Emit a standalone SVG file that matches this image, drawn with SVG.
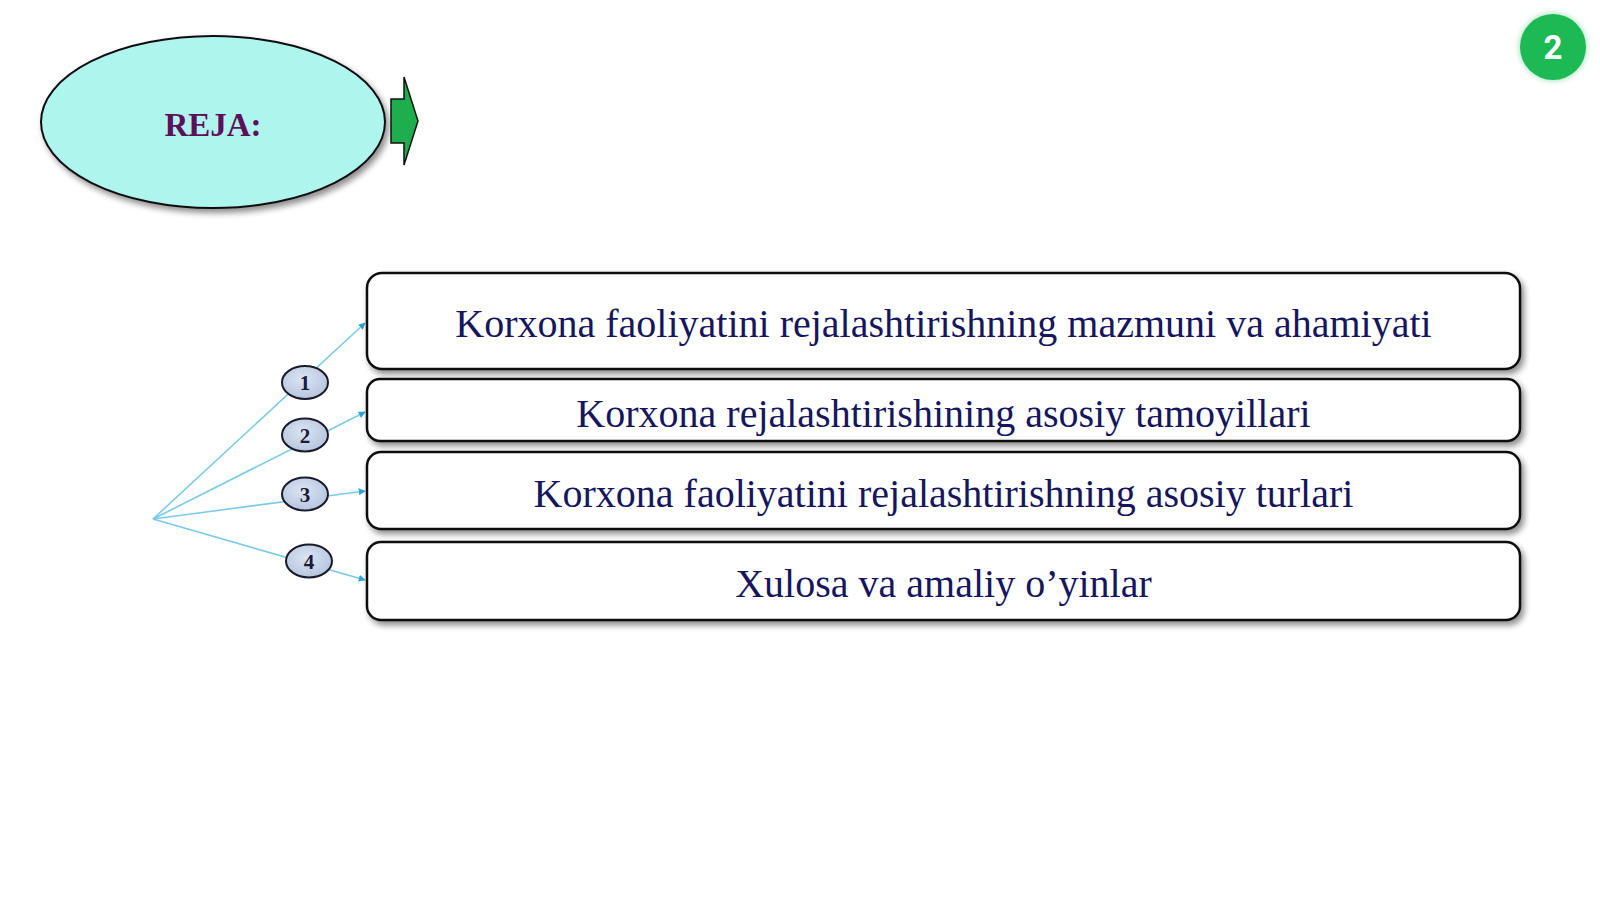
<svg xmlns="http://www.w3.org/2000/svg" width="1600" height="899" viewBox="0 0 1600 899">
  <defs>
    <filter id="shadow" x="-10%" y="-30%" width="120%" height="170%">
      <feGaussianBlur in="SourceAlpha" stdDeviation="3"/>
      <feOffset dx="3" dy="4" result="b"/>
      <feComponentTransfer><feFuncA type="linear" slope="0.45"/></feComponentTransfer>
      <feMerge><feMergeNode/><feMergeNode in="SourceGraphic"/></feMerge>
    </filter>
    <filter id="glow" x="-40%" y="-40%" width="180%" height="180%">
      <feGaussianBlur in="SourceGraphic" stdDeviation="3"/>
      <feComponentTransfer><feFuncA type="linear" slope="0.5"/></feComponentTransfer>
      <feMerge><feMergeNode/><feMergeNode in="SourceGraphic"/></feMerge>
    </filter>
    <radialGradient id="numFill" cx="45%" cy="40%" r="65%">
      <stop offset="0" stop-color="#dbe4f2"/>
      <stop offset="1" stop-color="#b3c3dd"/>
    </radialGradient>
    <marker id="arr" viewBox="0 0 10 10" refX="9" refY="5" markerWidth="7" markerHeight="7" markerUnits="userSpaceOnUse" orient="auto">
      <path d="M0,0 L10,5 L0,10 z" fill="#2aa3d8"/>
    </marker>
  </defs>
  <style>
    .box { fill: #ffffff; stroke: #111111; stroke-width: 2.5; }
    .btxt { font-family: "Liberation Serif", "Times New Roman", serif; font-size: 40px; fill: #16165e; text-anchor: middle; }
    .num { fill: url(#numFill); stroke: #1a1a2a; stroke-width: 2; }
    .ntxt { font-family: "Liberation Serif", "Times New Roman", serif; font-size: 21px; font-weight: bold; fill: #1a1a3a; text-anchor: middle; }
    .conn { stroke: #7ccbe6; stroke-width: 1.6; fill: none; }
  </style>
  <rect width="1600" height="899" fill="#ffffff"/>

  <g id="reja">
    <ellipse cx="213" cy="122" rx="172" ry="86" fill="#aef5ee" stroke="#111111" stroke-width="2" filter="url(#shadow)"/>
    <text x="213" y="136" font-family="Liberation Serif, Times New Roman, serif" font-size="33" font-weight="bold" fill="#5e0f5a" text-anchor="middle">REJA:</text>
  </g>

  <g id="green-arrow">
    <path d="M391,99 L404,99 L404,77 L418,121 L404,165 L404,143 L391,143 Z" fill="#1fae4d" stroke="#111111" stroke-width="1.5"/>
  </g>

  <g id="badge">
    <circle cx="1553" cy="47" r="33" fill="#1db954" filter="url(#glow)"/>
    <text x="1553" y="59" font-family="Roboto, Liberation Sans, sans-serif" font-size="33" font-weight="bold" fill="#ffffff" text-anchor="middle">2</text>
  </g>

  <g id="connectors">
    <line class="conn" x1="153" y1="519" x2="365" y2="323" marker-end="url(#arr)"/>
    <line class="conn" x1="153" y1="519" x2="365" y2="412" marker-end="url(#arr)"/>
    <line class="conn" x1="153" y1="519" x2="365" y2="491" marker-end="url(#arr)"/>
    <line class="conn" x1="153" y1="519" x2="365" y2="580" marker-end="url(#arr)"/>
  </g>

  <g id="num1">
    <ellipse class="num" cx="305" cy="382.5" rx="23" ry="16.5"/>
    <text class="ntxt" x="305" y="390">1</text>
  </g>
  <g id="num2">
    <ellipse class="num" cx="305" cy="435" rx="23" ry="16.5"/>
    <text class="ntxt" x="305" y="442.5">2</text>
  </g>
  <g id="num3">
    <ellipse class="num" cx="305" cy="494" rx="23" ry="16.5"/>
    <text class="ntxt" x="305" y="501.5">3</text>
  </g>
  <g id="num4">
    <ellipse class="num" cx="309" cy="561" rx="23" ry="16.5"/>
    <text class="ntxt" x="309" y="568.5">4</text>
  </g>

  <g id="box1">
    <rect class="box" x="367" y="273" width="1153" height="96" rx="15" filter="url(#shadow)"/>
    <text class="btxt" x="943.5" y="337">Korxona faoliyatini rejalashtirishning mazmuni va ahamiyati</text>
  </g>
  <g id="box2">
    <rect class="box" x="367" y="379" width="1153" height="62" rx="13" filter="url(#shadow)"/>
    <text class="btxt" x="943.5" y="427">Korxona rejalashtirishining asosiy tamoyillari</text>
  </g>
  <g id="box3">
    <rect class="box" x="367" y="452" width="1153" height="77" rx="14" filter="url(#shadow)"/>
    <text class="btxt" x="943.5" y="507">Korxona faoliyatini rejalashtirishning asosiy turlari</text>
  </g>
  <g id="box4">
    <rect class="box" x="367" y="542" width="1153" height="78" rx="14" filter="url(#shadow)"/>
    <text class="btxt" x="943.5" y="597">Xulosa va amaliy o’yinlar</text>
  </g>
</svg>
